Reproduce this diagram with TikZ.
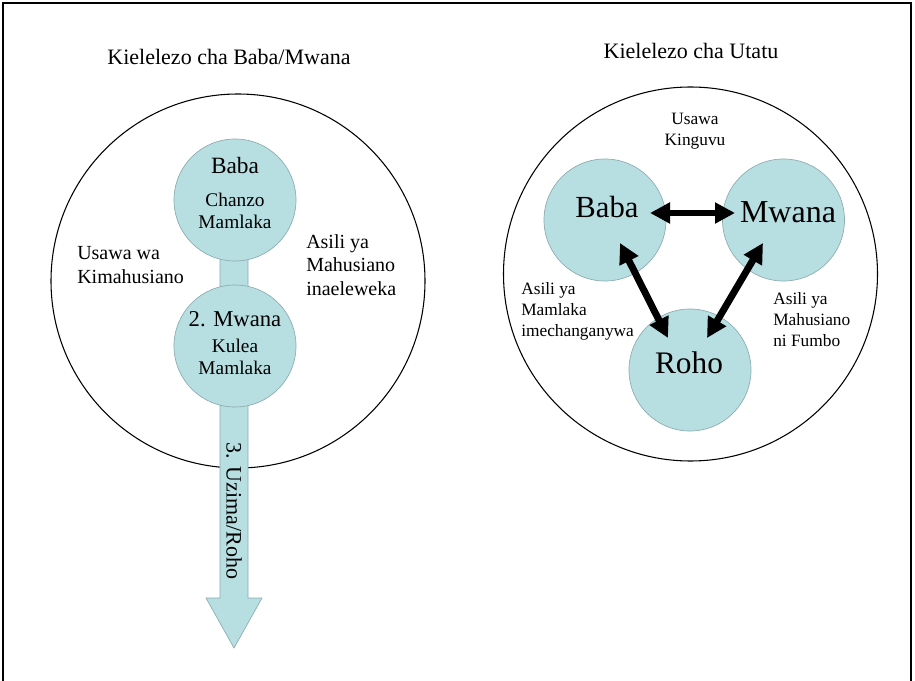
\documentclass[tikz,border=0pt]{standalone}
\usepackage{fontspec}
\setmainfont{Liberation Serif}
\usetikzlibrary{arrows.meta}
\definecolor{blob}{RGB}{183,222,225}
\definecolor{blobline}{RGB}{140,172,175}
\tikzset{
  outer/.style={circle, draw=black, line width=0.8pt, minimum size=280.5pt, inner sep=0pt},
  blobnode/.style={circle, fill=blob, draw=blobline, line width=0.5pt, minimum size=91.5pt, inner sep=0pt},
  txt/.style={inner sep=0pt, text=black},
  bigarrow/.style={line width=5.2pt, {Triangle[length=15pt,width=15pt]}-{Triangle[length=15pt,width=15pt]}},
}
\newcommand{\fs}[2]{\fontsize{#1}{#2}\selectfont}
\begin{document}
\begin{tikzpicture}[x=0.75pt,y=-0.75pt]
\useasboundingbox (0,0) rectangle (915,681);
\fill[white] (0,0) rectangle (915,681);
% frame
\draw[line width=1.3pt] (3,681) -- (3,3) -- (911,3) -- (911,681);

% ---------- left diagram ----------
\node[txt, font=\fs{16.5}{20}] (ltitle) at (229,57) {Kielelezo cha Baba/Mwana};
\node[outer] (louter) at (238,281) {};
\draw[fill=blob, draw=blobline, line width=0.5pt]
  (220,200) -- (220,598) -- (206,598) -- (234,648) -- (262,598) -- (248,598) -- (248,200) -- cycle;
\node[blobnode] (lbaba) at (235,200) {};
\node[blobnode] (lmwana) at (235,346) {};
\node[txt, font=\fs{17.5}{20}] (lbabat) at (235,166) {Baba};
\node[txt, align=center, font=\fs{14.5}{17}] (lchanzo) at (235,211) {Chanzo\\Mamlaka};
\node[txt, font=\fs{17}{20}] (lmwanat) at (235,319) {2. Mwana};
\node[txt, align=center, font=\fs{14.5}{16}] (lkulea) at (235,357) {Kulea\\Mamlaka};
\node[txt, rotate=-90, font=\fs{16.5}{20}] (lroho) at (234,511) {3. Uzima/Roho};
\node[txt, align=left, anchor=west, font=\fs{15}{17.5}] (lusawa) at (77,265) {Usawa wa\\Kimahusiano};
\node[txt, align=left, anchor=west, font=\fs{15}{17.5}] (lasili) at (306,265) {Asili ya\\Mahusiano\\inaeleweka};

% ---------- right diagram ----------
\node[txt, font=\fs{16.5}{20}] (rtitle) at (691,51) {Kielelezo cha Utatu};
\node[outer] (router) at (690.5,274) {};
\node[blobnode] (rbaba) at (605,220) {};
\node[blobnode] (rmwana) at (783.5,220) {};
\node[blobnode] (rroho) at (690,370) {};
\node[txt, font=\fs{23}{26}] (rbabat) at (607,207) {Baba};
\node[txt, font=\fs{24}{26}] (rmwanat) at (788,212) {Mwana};
\node[txt, font=\fs{23.5}{26}] (rrohot) at (689,363) {Roho};
\node[txt, align=center, font=\fs{13}{15.75}] (rusawa) at (695,131) {Usawa\\Kinguvu};
\node[txt, align=left, anchor=west, font=\fs{13}{15.75}] (rasili1) at (521,311) {Asili ya\\Mamlaka\\imechanganywa};
\node[txt, align=left, anchor=west, font=\fs{13}{15.75}] (rasili2) at (773,320) {Asili ya\\Mahusiano\\ni Fumbo};

\coordinate (t1) at (650,213);
\coordinate (t2) at (735,213);
\coordinate (t3) at (620,243);
\coordinate (t4) at (668,338);
\coordinate (t5) at (763,243);
\coordinate (t6) at (707,338);
\draw[bigarrow] (t1) -- (t2);
\draw[bigarrow] (t3) -- (t4);
\draw[bigarrow] (t5) -- (t6);
\end{tikzpicture}
\end{document}
